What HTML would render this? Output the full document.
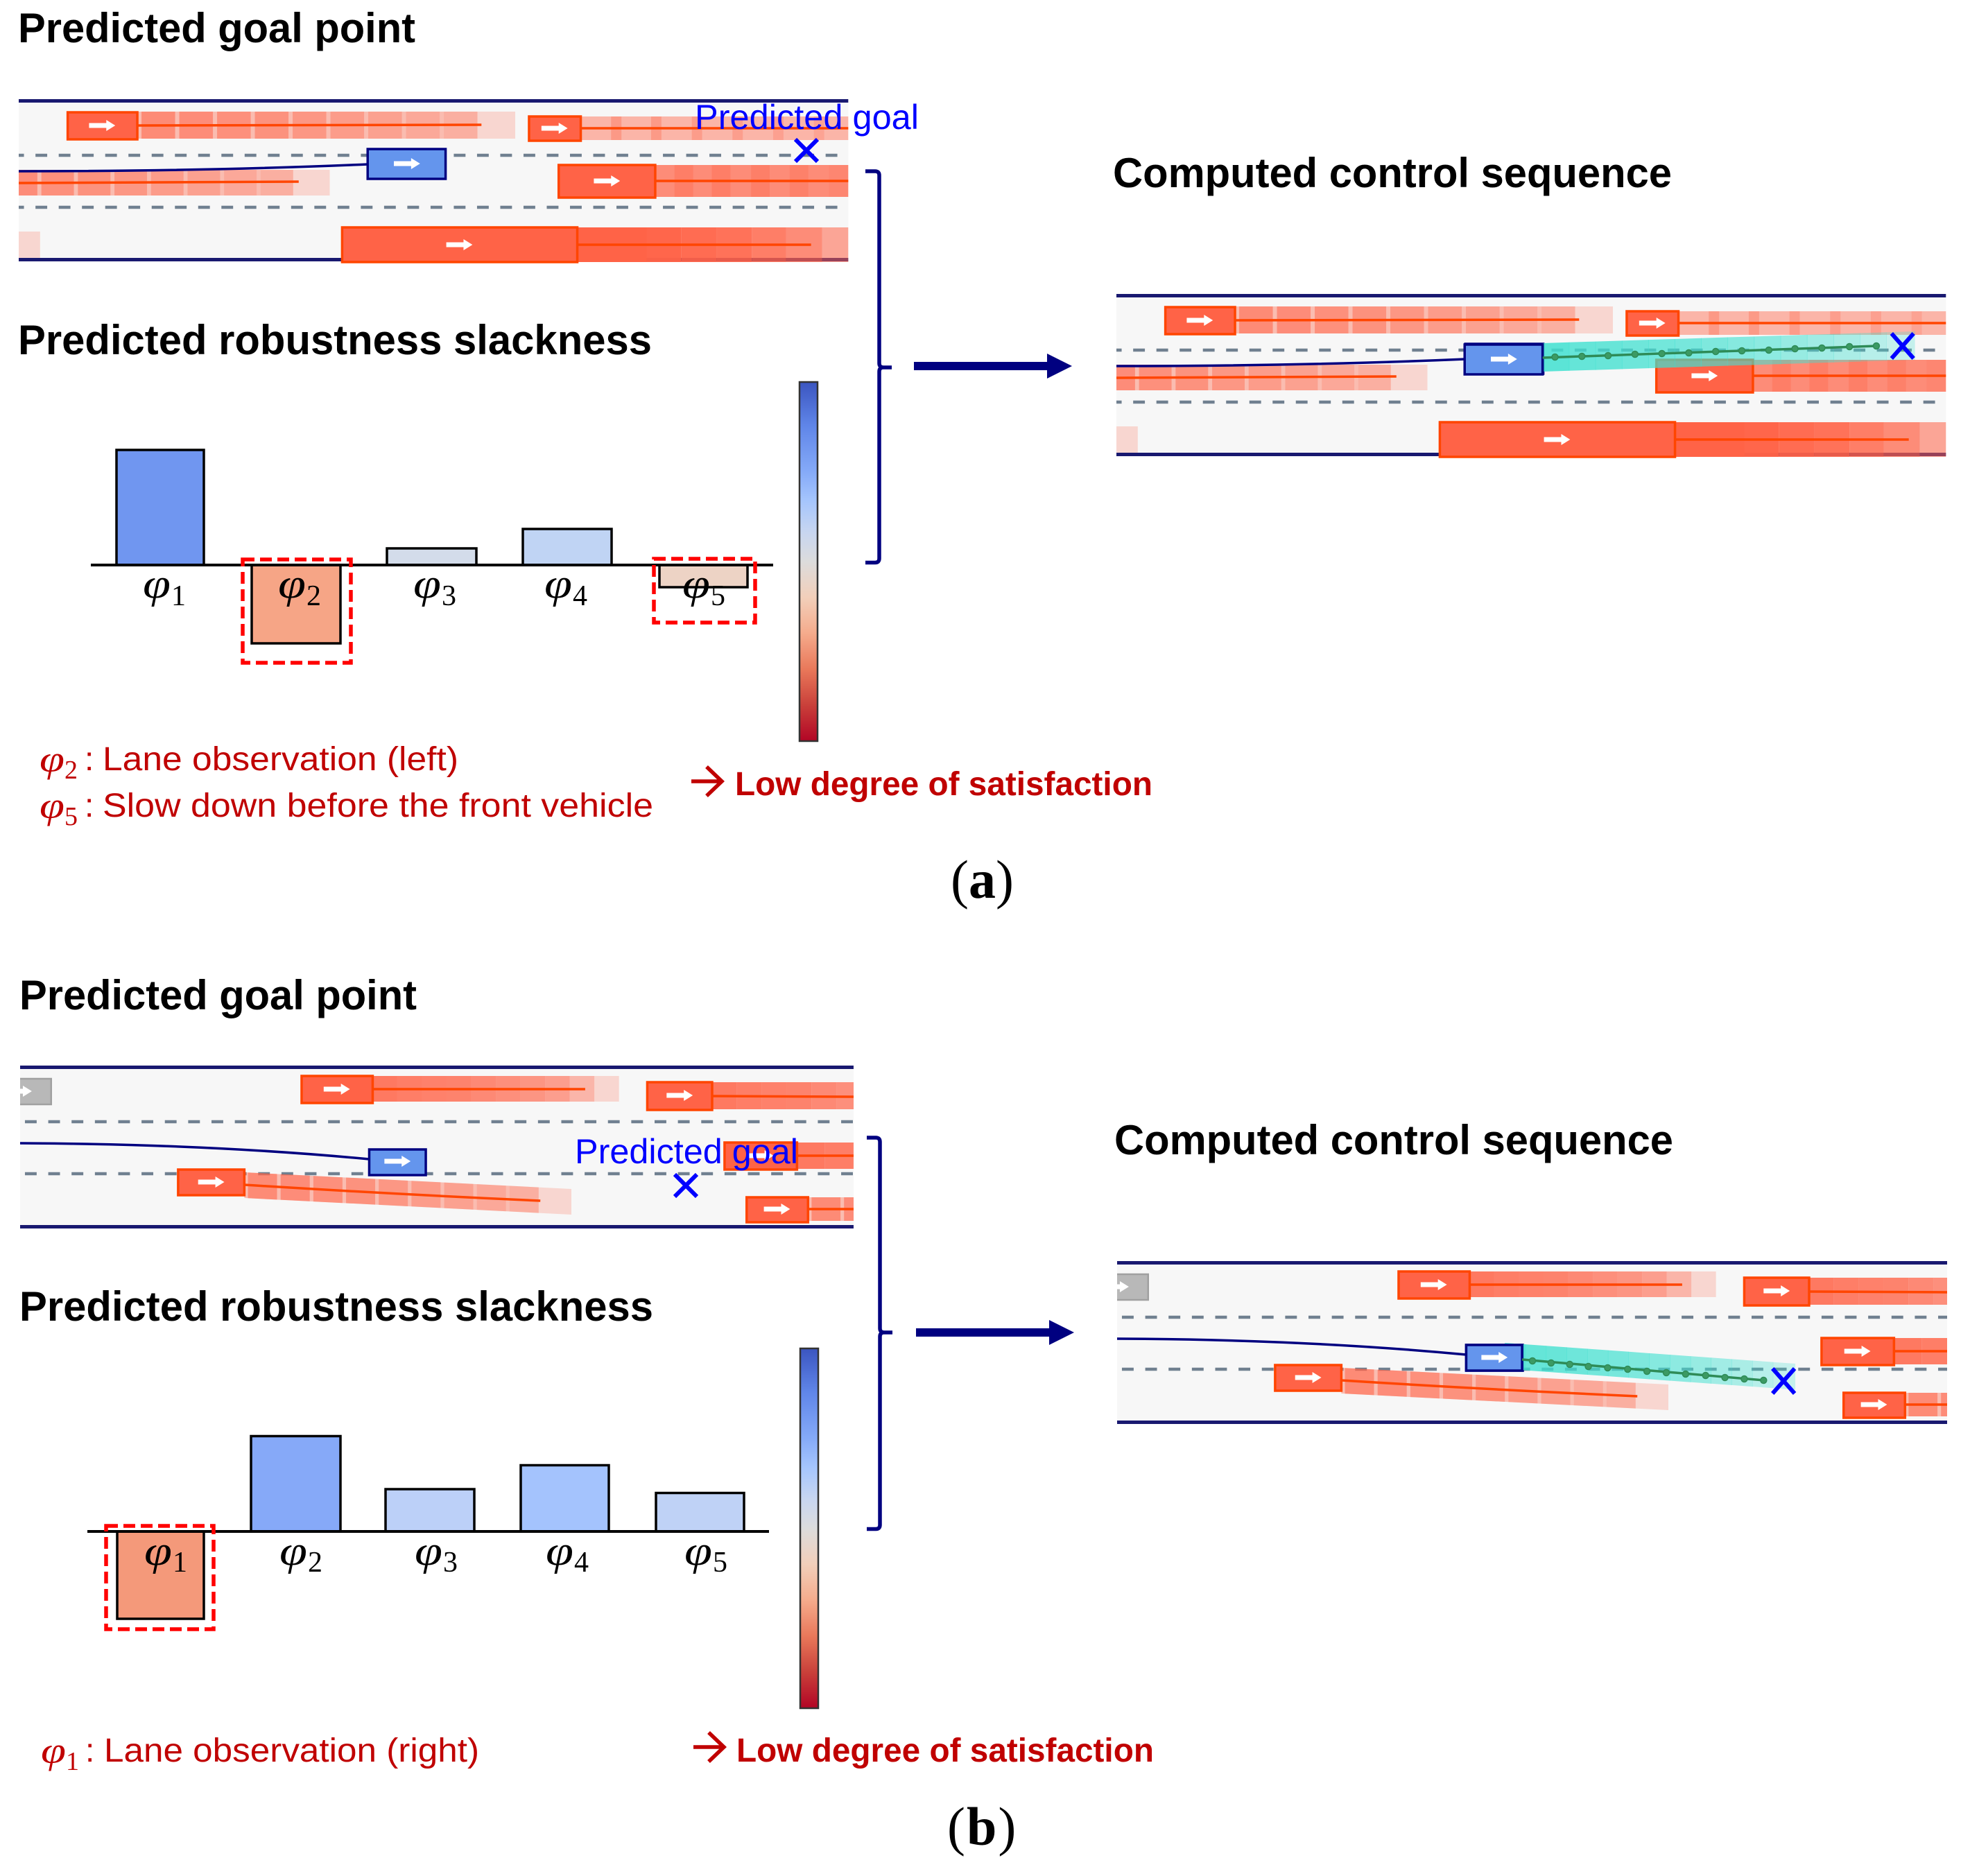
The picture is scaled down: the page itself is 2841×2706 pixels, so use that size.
<!DOCTYPE html>
<html lang="en"><head><meta charset="utf-8"><title>Predicted goal and robustness diagram</title>
<style>html,body{margin:0;padding:0;background:#fff}svg{display:block}
.t{font:bold 60px "Liberation Sans",sans-serif;fill:#000}
.r{font:48px "Liberation Sans",sans-serif;fill:#c00000}
.rb{font:bold 48px "Liberation Sans",sans-serif;fill:#c00000}
.g{font:50px "Liberation Sans",sans-serif;fill:#0000ff}
.p{font:italic 60px "Liberation Serif",serif;fill:#000}
.s{font:42px "Liberation Serif",serif;fill:#000}
.pr{font:italic 54px "Liberation Serif",serif;fill:#c00000}
.sr{font:38px "Liberation Serif",serif;fill:#c00000}
.c{font:78px "Liberation Serif",serif;fill:#000}
.cb{font:bold 78px "Liberation Serif",serif;fill:#000}
</style></head><body>
<svg xmlns="http://www.w3.org/2000/svg" width="2841" height="2706" viewBox="0 0 2841 2706">
<defs>
<linearGradient id="cm" x1="0" y1="0" x2="0" y2="1">
<stop offset="0" stop-color="#3b55c0"/><stop offset=".12" stop-color="#5f85e8"/><stop offset=".25" stop-color="#85aaf8"/><stop offset=".33" stop-color="#a5c5fd"/><stop offset=".42" stop-color="#c8d6f0"/><stop offset=".5" stop-color="#dcdcdc"/><stop offset=".6" stop-color="#f2cfba"/><stop offset=".7" stop-color="#f5ab8c"/><stop offset=".8" stop-color="#e9785a"/><stop offset=".9" stop-color="#c9403a"/><stop offset="1" stop-color="#b20525"/>
</linearGradient>
<clipPath id="ca"><rect x="27" y="130" width="1203" height="260"/></clipPath>
<clipPath id="cb"><rect x="29" y="1525" width="1208" height="260"/></clipPath>
<clipPath id="cr"><rect x="1610" y="400" width="1198" height="1700"/></clipPath>
<path id="ar" d="M-19-3.5H6V-8L19 0 6 8V3.5H-19Z" fill="#fff"/>
<g id="t1" fill="#ff6347">
<rect width="90" height="10" opacity=".4"/>
<rect x="1.1" width="8.9" height="10" opacity=".55"/><rect x="11.1" width="8.9" height="10" opacity=".53"/><rect x="21.1" width="8.9" height="10" opacity=".5"/><rect x="31.1" width="8.9" height="10" opacity=".47"/><rect x="41.1" width="8.9" height="10" opacity=".42"/><rect x="51.1" width="8.9" height="10" opacity=".36"/><rect x="61.1" width="8.9" height="10" opacity=".3"/><rect x="71.1" width="8.9" height="10" opacity=".22"/><rect x="81.1" width="8.9" height="10" opacity=".14"/>
<rect x="90" width="10" height="10" opacity=".22"/>
</g>
<g id="t6" fill="#ff6347">
<rect width="10" height="10" opacity=".85"/><rect x="10" width="10" height="10" opacity=".82"/><rect x="20" width="10" height="10" opacity=".8"/><rect x="30" width="10" height="10" opacity=".78"/><rect x="40" width="10" height="10" opacity=".74"/><rect x="50" width="10" height="10" opacity=".7"/><rect x="60" width="10" height="10" opacity=".66"/><rect x="70" width="10" height="10" opacity=".6"/><rect x="80" width="10" height="10" opacity=".44"/><rect x="90" width="10" height="10" opacity=".22"/>
</g>
<g id="teal" fill="#40e0d0">
<rect width="7.2" height="10" opacity=".85"/><rect x="7.1" width="7.2" height="10" opacity=".8"/><rect x="14.2" width="7.2" height="10" opacity=".78"/><rect x="21.3" width="7.2" height="10" opacity=".75"/><rect x="28.4" width="7.2" height="10" opacity=".72"/><rect x="35.5" width="7.2" height="10" opacity=".7"/><rect x="42.6" width="7.2" height="10" opacity=".66"/><rect x="49.7" width="7.2" height="10" opacity=".62"/><rect x="56.8" width="7.2" height="10" opacity=".58"/><rect x="63.9" width="7.2" height="10" opacity=".52"/><rect x="71" width="7.2" height="10" opacity=".47"/><rect x="78.1" width="7.2" height="10" opacity=".42"/><rect x="85.2" width="7.2" height="10" opacity=".35"/><rect x="92.3" width="7.7" height="10" opacity=".28"/>
</g>
<g id="sa" clip-path="url(#ca)">
<rect x="27" y="147" width="1203" height="226" fill="#f7f7f7"/>
<rect x="27" y="143" width="1203" height="5" fill="#191970"/><rect x="27" y="372" width="1203" height="5" fill="#191970"/>
<path d="M27 224H1230M27 299H1230" stroke="#708090" stroke-width="4.5" stroke-dasharray="17 16.7" stroke-dashoffset="9.4" fill="none"/>
<rect x="27" y="334" width="31" height="38" fill="#ff6347" opacity=".22"/>
<use href="#t1" transform="translate(199,161) scale(5.48,3.9)"/>
<g fill="#ff6347"><rect x="842" y="168" width="388" height="34" opacity=".45"/><rect x="886" y="168" width="15" height="34" opacity=".35"/><rect x="944" y="168" width="15" height="34" opacity=".33"/><rect x="1003" y="168" width="15" height="34" opacity=".3"/><rect x="1062" y="168" width="15" height="34" opacity=".28"/><rect x="1121" y="168" width="15" height="34" opacity=".25"/><rect x="1180" y="168" width="15" height="34" opacity=".22"/></g>
<use href="#t1" transform="translate(-52,245) scale(5.3,3.7)"/>
<g fill="#ff6347"><rect x="950" y="238" width="280" height="46" opacity=".72"/><rect x="978" y="238" width="27" height="46" opacity=".35"/><rect x="1032" y="238" width="27" height="46" opacity=".35"/><rect x="1089" y="238" width="27" height="46" opacity=".3"/><rect x="1145" y="238" width="27" height="46" opacity=".28"/><rect x="1202" y="238" width="28" height="46" opacity=".15"/></g>
<g fill="#ff6347"><rect x="837" y="328" width="101" height="50"/><rect x="938" y="328" width="50" height="50" opacity=".98"/><rect x="988" y="328" width="51" height="50" opacity=".94"/><rect x="1039" y="328" width="51" height="50" opacity=".9"/><rect x="1090" y="328" width="50" height="50" opacity=".82"/><rect x="1140" y="328" width="52" height="50" opacity=".72"/><rect x="1192" y="328" width="38" height="50" opacity=".55"/></g>
<path d="M199 181L698 180M842 185H1230M27 264L433 262M950 261H1230M837 353H1176" stroke="#ff4500" stroke-width="3.5" fill="none"/>
<path d="M27 247Q300 247 533 237" stroke="#000080" stroke-width="3.5" fill="none"/>
<g fill="#ff6347" stroke="#ff4500" stroke-width="3.5"><rect x="98" y="162" width="101" height="39"/><rect x="767" y="168" width="75" height="35"/><rect x="810" y="238" width="140" height="47"/><rect x="496" y="328" width="341" height="50"/></g>
<rect x="533" y="215" width="113" height="43" fill="#6495ed" stroke="#000080" stroke-width="3.5"/>
<use href="#ar" x="148" y="181"/><use href="#ar" x="804" y="185"/><use href="#ar" x="880" y="261"/><use href="#ar" x="666" y="353"/><use href="#ar" x="590" y="236"/>
</g>
<g id="sb" clip-path="url(#cb)">
<rect x="29" y="1541" width="1208" height="226" fill="#f7f7f7"/>
<rect x="29" y="1537" width="1208" height="5" fill="#191970"/><rect x="29" y="1767" width="1208" height="5" fill="#191970"/>
<path d="M36 1618H1237M36 1693H1237" stroke="#708090" stroke-width="4.5" stroke-dasharray="17 16.8" fill="none"/>
<use href="#t6" transform="translate(540,1552) scale(3.57,3.7)"/>
<use href="#t6" transform="translate(1032,1561) scale(3.6,3.9)"/>
<use href="#t6" transform="translate(1155,1648) scale(4,3.8)"/>
<use href="#t1" transform="translate(1171,1727) scale(4.7,3.4)"/>
<use href="#t1" transform="matrix(4.74,.24,0,3.7,354,1691)"/>
<path d="M540 1571H848M1032 1581L1237 1582M1155 1667H1237M1171 1744H1237" stroke="#ff4500" stroke-width="3.5" fill="none"/>
<path d="M354 1709Q560 1722 783 1732" stroke="#ff4500" stroke-width="3.5" fill="none"/>
<path d="M29 1649Q300 1650 535 1672" stroke="#000080" stroke-width="3.5" fill="none"/>
<rect x="27" y="1556" width="47" height="37" fill="#b8b8b8" stroke="#a0a0a0" stroke-width="2.5"/>
<use href="#ar" x="27" y="1574"/>
<g fill="#ff6347" stroke="#ff4500" stroke-width="3.5"><rect x="437" y="1552" width="103" height="39"/><rect x="938" y="1561" width="94" height="40"/><rect x="1050" y="1648" width="105" height="39"/><rect x="1082" y="1727" width="89" height="36"/><rect x="258" y="1687" width="96" height="37"/></g>
<rect x="535" y="1658" width="82" height="37" fill="#6495ed" stroke="#000080" stroke-width="3.5"/>
<use href="#ar" x="488" y="1571"/><use href="#ar" x="985" y="1580"/><use href="#ar" x="1102" y="1667"/><use href="#ar" x="1126" y="1744"/><use href="#ar" x="306" y="1705"/><use href="#ar" x="576" y="1675"/>
</g>
</defs>
<rect width="2841" height="2706" fill="#fff"/>

<!-- Panel A -->
<text class="t" x="26" y="61" textLength="573" lengthAdjust="spacingAndGlyphs">Predicted goal point</text>
<g transform="translate(27,0) scale(.9945,1) translate(-27,0)"><use href="#sa"/></g>
<text class="g" x="1002" y="186" textLength="323" lengthAdjust="spacingAndGlyphs">Predicted goal</text>
<path d="M1147 201L1179 233M1179 201L1147 233" stroke="#0000ff" stroke-width="6" fill="none"/>
<text class="t" x="26" y="511" textLength="914" lengthAdjust="spacingAndGlyphs">Predicted robustness slackness</text>
<text class="t" x="1605" y="270" textLength="806" lengthAdjust="spacingAndGlyphs">Computed control sequence</text>
<g clip-path="url(#cr)">
<g transform="translate(1583,281)"><g transform="translate(27,0) scale(.9945,1) translate(-27,0)"><use href="#sa"/></g></g>
<g transform="translate(1610,0) scale(.9945,1) translate(-1610,0)">
<use href="#teal" transform="matrix(5.4,-.17,0,4.1,2228,495)"/>
<rect x="2115" y="497" width="113" height="43" fill="#6495ed" stroke="#000080" stroke-width="3.5"/><use href="#ar" x="2172" y="518"/>
<path d="M2228 516L2712 499" stroke="#2e8b57" stroke-width="3.5" fill="none"/>
<g fill="#3c9a64" stroke="#2e8b57" stroke-width="1.5"><circle cx="2246" cy="515" r="4.5"/><circle cx="2285" cy="514" r="4.5"/><circle cx="2323" cy="513" r="4.5"/><circle cx="2362" cy="511" r="4.5"/><circle cx="2401" cy="510" r="4.5"/><circle cx="2440" cy="509" r="4.5"/><circle cx="2479" cy="507" r="4.5"/><circle cx="2517" cy="506" r="4.5"/><circle cx="2556" cy="505" r="4.5"/><circle cx="2594" cy="503" r="4.5"/><circle cx="2633" cy="502" r="4.5"/><circle cx="2673" cy="500" r="4.5"/><circle cx="2712" cy="499" r="4.5"/></g>
<path d="M2734 481L2766 517M2766 481L2734 517" stroke="#0000ff" stroke-width="6" fill="none"/>
</g></g>
<path d="M1248 247H1262Q1268 247 1268 253V524Q1268 530 1274 530H1286M1274 530Q1268 530 1268 536V805.5Q1268 811.5 1262 811.5H1248" stroke="#000080" stroke-width="5.5" fill="none"/>
<rect x="1318" y="522" width="192" height="12" fill="#000080"/><path d="M1510 510L1546 528 1510 546Z" fill="#000080"/>

<g stroke="#000" stroke-width="3.5">
<rect x="168" y="649" width="126" height="166" fill="#7096f0"/>
<rect x="363" y="815" width="128" height="113" fill="#f6a586"/>
<rect x="558" y="791" width="129" height="24" fill="#d3dcea"/>
<rect x="754" y="763" width="128" height="52" fill="#c0d4f4"/>
<rect x="951" y="815" width="127" height="32" fill="#edd3c5"/>
</g>
<path d="M131 815H1115" stroke="#000" stroke-width="4" fill="none"/>
<rect x="350" y="807" width="156" height="149" fill="none" stroke="#f00" stroke-width="5.5" stroke-dasharray="17 8"/>
<rect x="943" y="806" width="146" height="92" fill="none" stroke="#f00" stroke-width="5.5" stroke-dasharray="17 8"/>
<text class="p" x="206" y="862" textLength="40" lengthAdjust="spacingAndGlyphs">φ</text><text class="s" x="247" y="873">1</text>
<text class="p" x="401" y="862" textLength="40" lengthAdjust="spacingAndGlyphs">φ</text><text class="s" x="442" y="873">2</text>
<text class="p" x="596" y="862" textLength="40" lengthAdjust="spacingAndGlyphs">φ</text><text class="s" x="637" y="873">3</text>
<text class="p" x="785" y="862" textLength="40" lengthAdjust="spacingAndGlyphs">φ</text><text class="s" x="826" y="873">4</text>
<text class="p" x="984" y="862" textLength="40" lengthAdjust="spacingAndGlyphs">φ</text><text class="s" x="1025" y="873">5</text>
<rect x="1153" y="551" width="26" height="518" fill="url(#cm)" stroke="#333" stroke-width="2.5"/>
<text class="pr" x="57" y="1113" textLength="36" lengthAdjust="spacingAndGlyphs">φ</text><text class="sr" x="93" y="1123">2</text><text class="r" x="122" y="1111">:</text>
<text class="r" x="148" y="1111" textLength="513" lengthAdjust="spacingAndGlyphs">Lane observation (left)</text>
<text class="pr" x="57" y="1180" textLength="36" lengthAdjust="spacingAndGlyphs">φ</text><text class="sr" x="93" y="1190">5</text><text class="r" x="122" y="1178">:</text>
<text class="r" x="148" y="1178" textLength="794" lengthAdjust="spacingAndGlyphs">Slow down before the front vehicle</text>
<path d="M997 1127H1040M1019 1106L1041 1127 1019 1148" stroke="#c00000" stroke-width="5.5" fill="none"/>
<text class="rb" x="1060" y="1147" textLength="602" lengthAdjust="spacingAndGlyphs">Low degree of satisfaction</text>
<text x="1371" y="1295"><tspan class="c">(</tspan><tspan class="cb">a</tspan><tspan class="c">)</tspan></text>

<!-- Panel B -->
<text class="t" x="28" y="1456" textLength="573" lengthAdjust="spacingAndGlyphs">Predicted goal point</text>
<g transform="translate(29,0) scale(.995,1) translate(-29,0)"><use href="#sb"/></g>
<text class="g" x="829" y="1678" textLength="322" lengthAdjust="spacingAndGlyphs">Predicted goal</text>
<path d="M973 1694L1005 1726M1005 1694L973 1726" stroke="#0000ff" stroke-width="6" fill="none"/>
<text class="t" x="28" y="1905" textLength="914" lengthAdjust="spacingAndGlyphs">Predicted robustness slackness</text>
<text class="t" x="1607" y="1665" textLength="806" lengthAdjust="spacingAndGlyphs">Computed control sequence</text>
<g clip-path="url(#cr)">
<g transform="translate(1582,282)"><g transform="translate(29,0) scale(.995,1) translate(-29,0)"><use href="#sb"/></g></g>
<g transform="translate(1611,0) scale(.995,1) translate(-1611,0)">
<use href="#teal" transform="matrix(4.21,.3,0,3.75,2173,1937)"/>
<rect x="2117" y="1940" width="81" height="37" fill="#6495ed" stroke="#000080" stroke-width="3.5"/><use href="#ar" x="2158" y="1958"/>
<path d="M2198 1961L2548 1991" stroke="#2e8b57" stroke-width="3.5" fill="none"/>
<g fill="#3c9a64" stroke="#2e8b57" stroke-width="1.5"><circle cx="2213" cy="1963" r="4.5"/><circle cx="2240" cy="1966" r="4.5"/><circle cx="2267" cy="1968" r="4.5"/><circle cx="2294" cy="1971" r="4.5"/><circle cx="2322" cy="1973" r="4.5"/><circle cx="2351" cy="1975" r="4.5"/><circle cx="2379" cy="1978" r="4.5"/><circle cx="2407" cy="1980" r="4.5"/><circle cx="2435" cy="1982" r="4.5"/><circle cx="2464" cy="1984" r="4.5"/><circle cx="2492" cy="1987" r="4.5"/><circle cx="2520" cy="1989" r="4.5"/><circle cx="2548" cy="1991" r="4.5"/></g>
<path d="M2561 1974L2593 2010M2593 1974L2561 2010" stroke="#0000ff" stroke-width="6" fill="none"/>
</g></g>
<path d="M1250 1641H1263Q1269 1641 1269 1647V1916Q1269 1922 1275 1922H1287M1275 1922Q1269 1922 1269 1928V2199.5Q1269 2205.5 1263 2205.5H1250" stroke="#000080" stroke-width="5.5" fill="none"/>
<rect x="1321" y="1916" width="192" height="12" fill="#000080"/><path d="M1513 1904L1549 1922 1513 1940Z" fill="#000080"/>

<g stroke="#000" stroke-width="3.5">
<rect x="169" y="2209" width="125" height="126" fill="#f4997a"/>
<rect x="362" y="2071.5" width="129" height="137.5" fill="#86a9f8"/>
<rect x="556" y="2148" width="128" height="61" fill="#bcd0f8"/>
<rect x="751" y="2113.5" width="127" height="95.5" fill="#a4c3fd"/>
<rect x="946" y="2153.5" width="127" height="55.5" fill="#bfd2f6"/>
</g>
<path d="M126 2209H1109" stroke="#000" stroke-width="4" fill="none"/>
<rect x="153" y="2201" width="155" height="149" fill="none" stroke="#f00" stroke-width="5.5" stroke-dasharray="17 8"/>
<text class="p" x="208" y="2257" textLength="40" lengthAdjust="spacingAndGlyphs">φ</text><text class="s" x="249" y="2267">1</text>
<text class="p" x="403" y="2257" textLength="40" lengthAdjust="spacingAndGlyphs">φ</text><text class="s" x="444" y="2267">2</text>
<text class="p" x="598" y="2257" textLength="40" lengthAdjust="spacingAndGlyphs">φ</text><text class="s" x="639" y="2267">3</text>
<text class="p" x="787" y="2257" textLength="40" lengthAdjust="spacingAndGlyphs">φ</text><text class="s" x="828" y="2267">4</text>
<text class="p" x="987" y="2257" textLength="40" lengthAdjust="spacingAndGlyphs">φ</text><text class="s" x="1028" y="2267">5</text>
<rect x="1154" y="1945" width="26" height="519" fill="url(#cm)" stroke="#333" stroke-width="2.5"/>
<text class="pr" x="59" y="2543" textLength="36" lengthAdjust="spacingAndGlyphs">φ</text><text class="sr" x="95" y="2553">1</text><text class="r" x="123" y="2541">:</text>
<text class="r" x="150" y="2541" textLength="541" lengthAdjust="spacingAndGlyphs">Lane observation (right)</text>
<path d="M1000 2520H1043M1022 2499L1044 2520 1022 2541" stroke="#c00000" stroke-width="5.5" fill="none"/>
<text class="rb" x="1062" y="2541" textLength="602" lengthAdjust="spacingAndGlyphs">Low degree of satisfaction</text>
<text x="1366" y="2661" letter-spacing="2"><tspan class="c">(</tspan><tspan class="cb">b</tspan><tspan class="c">)</tspan></text>
</svg>
</body></html>
